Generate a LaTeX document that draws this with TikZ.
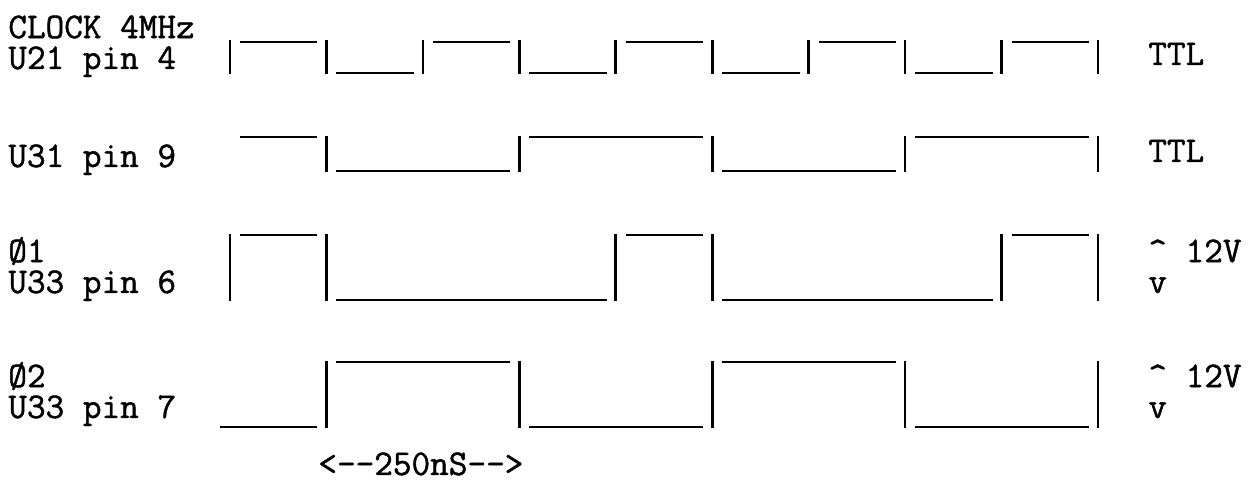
\documentclass[tikz,border=0pt]{standalone}
\usepackage{fontspec}
\newfontfamily\typewriter{Latin Modern Mono}[FakeBold=1.2]
\tikzset{
        % waveform strokes
        signal_line/.style={line width=1.5pt, line cap=butt},
        % pin labels on the left, one or two lines
        label_pin/.style={anchor=base west, inner sep=0pt, align=left,
                          font=\typewriter\fontsize{20.6}{17.6}\selectfont},
        % level labels on the right
        label_level/.style={label_pin}
}
\begin{document}
\begin{tikzpicture}[x=0.02cm, y=-0.02cm]
    \useasboundingbox (0,0) rectangle (1248,482);
    % labels
    \node[label_pin] (u21) at (8,69) {CLOCK 4MHz\\U21 pin 4};
    \node[label_pin] (u31) at (8,167) {U31 pin 9};
    \node[label_pin] (u33a) at (8,293) {Ø1\\U33 pin 6};
    \node[label_pin] (u33b) at (8,418) {Ø2\\U33 pin 7};
    \node[label_pin] (period) at (318,475) {<--250nS-->};
    \node[label_level] (ttla) at (1148,65) {TTL};
    \node[label_level] (ttlb) at (1148,162) {TTL};
    \node[label_level] (swinga) at (1148,293) {\^{} 12V\\v};
    \node[label_level] (swingb) at (1148,418) {\^{} 12V\\v};
    % clock, U21 pin 4
    \foreach \k in {0,...,9}
        \draw[signal_line] ({230+96.44*\k},40) -- ({230+96.44*\k},74);
    \foreach \a/\b/\y in {0/1/42, 1/2/73, 2/3/42, 3/4/73, 4/5/42, 5/6/73, 6/7/42, 7/8/73, 8/9/42}
        \draw[signal_line] ({240+96.44*\a},\y) -- ({221+96.44*\b},\y);
    % U31 pin 9
    \foreach \k in {1,3,5,7,9}
        \draw[signal_line] ({230+96.44*\k},136) -- ({230+96.44*\k},172);
    \foreach \a/\b/\y in {0/1/137, 1/3/171, 3/5/137, 5/7/171, 7/9/137}
        \draw[signal_line] ({240+96.44*\a},\y) -- ({221+96.44*\b},\y);
    % phi 1, U33 pin 6
    \foreach \k in {0,1,4,5,8,9}
        \draw[signal_line] ({230+96.44*\k},234) -- ({230+96.44*\k},301);
    \foreach \a/\b/\y in {0/1/235, 1/4/300, 4/5/235, 5/8/300, 8/9/235}
        \draw[signal_line] ({240+96.44*\a},\y) -- ({221+96.44*\b},\y);
    % phi 2, U33 pin 7
    \foreach \k in {1,3,5,7,9}
        \draw[signal_line] ({230+96.44*\k},361) -- ({230+96.44*\k},428);
    \draw[signal_line] (220,427) -- ({221+96.44},427);
    \foreach \a/\b/\y in {1/3/362, 3/5/427, 5/7/362, 7/9/427}
        \draw[signal_line] ({240+96.44*\a},\y) -- ({221+96.44*\b},\y);
\end{tikzpicture}
\end{document}
